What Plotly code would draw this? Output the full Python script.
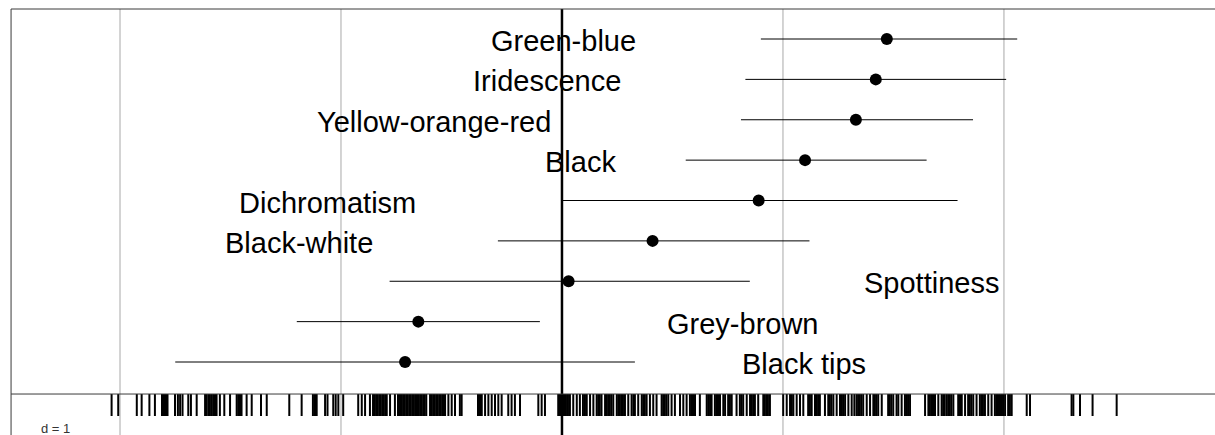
import plotly.graph_objects as go

# ---- data ----
labels = ["Green-blue", "Iridescence", "Yellow-orange-red", "Black", "Dichromatism",
          "Black-white", "Spottiness", "Grey-brown", "Black tips"]
estimate = [1.47, 1.42, 1.33, 1.10, 0.89, 0.41, 0.03, -0.65, -0.71]
lower = [0.90, 0.83, 0.81, 0.56, 0.00, -0.29, -0.78, -1.20, -1.75]
upper = [2.06, 2.01, 1.86, 1.65, 1.79, 1.12, 0.85, -0.10, 0.33]
label_x = [0.005, -0.066, -0.577, 0.086, -1.059, -1.190, 1.672, 0.819, 1.097]
rows = [9, 8, 7, 6, 5, 4, 3, 2, 1]
grid_x = [-2, -1, 1, 2]
zero_x = 0
grid_label = "d = 1"

rug = [
    -2.038, -2.008, -1.924, -1.902, -1.867, -1.842,
    -1.810, -1.805, -1.800, -1.795, -1.790, -1.785,
    -1.751, -1.738, -1.728, -1.717, -1.691, -1.679, -1.653,
    -1.615, -1.608, -1.600, -1.593, -1.585, -1.578, -1.570, -1.563,
    -1.548, -1.528, -1.502, -1.472, -1.465, -1.457, -1.450, -1.427, -1.404,
    -1.362, -1.336, -1.234, -1.178,
    -1.127, -1.120, -1.113, -1.110, -1.072, -1.061, -1.035, -1.024, -1.012, -0.990,
    -0.922, -0.906, -0.891, -0.869,
    -0.855, -0.848, -0.841, -0.834, -0.827, -0.820, -0.813, -0.806, -0.799, -0.793,
    -0.778, -0.756, -0.742,
    -0.733, -0.726, -0.719, -0.712, -0.705, -0.698, -0.691, -0.684, -0.677, -0.670,
    -0.663, -0.656, -0.649, -0.642, -0.635, -0.628, -0.621, -0.614,
    -0.597, -0.590, -0.583, -0.576, -0.569, -0.562, -0.555, -0.548, -0.541, -0.534, -0.529,
    -0.514, -0.499, -0.484, -0.462, -0.454,
    -0.380, -0.371, -0.363, -0.348, -0.333, -0.318, -0.303, -0.288, -0.273,
    -0.243, -0.228, -0.213, -0.190, -0.107, -0.092, -0.077,
    -0.017, -0.009, 0.005, 0.012, 0.018, 0.025, 0.032, 0.036,
    0.051, 0.067, 0.081, 0.095, 0.104, 0.112, 0.127, 0.142,
    0.157, 0.164, 0.171, 0.179, 0.195, 0.202, 0.209, 0.216, 0.223, 0.232,
    0.248, 0.255, 0.262, 0.269, 0.276, 0.285, 0.300, 0.315, 0.323, 0.330, 0.345,
    0.361, 0.368, 0.375, 0.383, 0.398, 0.413, 0.428,
    0.451, 0.458, 0.465, 0.472, 0.481, 0.496, 0.511, 0.534, 0.549, 0.564,
    0.579, 0.586, 0.593, 0.602, 0.624,
    0.655, 0.662, 0.670, 0.677, 0.692, 0.699, 0.706, 0.715, 0.730, 0.738,
    0.752, 0.760, 0.768, 0.790, 0.805, 0.812, 0.820, 0.836,
    0.851, 0.858, 0.865, 0.873, 0.888, 0.911, 0.918, 0.925, 0.932, 0.941,
    1.001, 1.017, 1.032, 1.040, 1.047, 1.062, 1.077, 1.092,
    1.114, 1.122, 1.130, 1.145, 1.152, 1.159, 1.167, 1.190,
    1.205, 1.212, 1.219, 1.228, 1.243, 1.258, 1.265, 1.272, 1.281, 1.296, 1.311, 1.323,
    1.333, 1.340, 1.347, 1.354, 1.363, 1.379, 1.394, 1.409, 1.416, 1.423, 1.431, 1.447,
    1.476, 1.483, 1.490, 1.499, 1.514, 1.522, 1.537, 1.552, 1.559, 1.566, 1.575,
    1.643, 1.658, 1.665, 1.672, 1.679, 1.688, 1.703, 1.718, 1.725, 1.732, 1.741,
    1.748, 1.755, 1.762, 1.771, 1.793, 1.801, 1.809, 1.824,
    1.838, 1.845, 1.852, 1.861, 1.876, 1.891, 1.898, 1.905, 1.914, 1.929, 1.944,
    1.959, 1.966, 1.973, 1.982, 1.991, 1.997, 2.005, 2.019, 2.027, 2.035,
    2.103, 2.118, 2.306, 2.314, 2.344, 2.401, 2.510,
]

# ---- layout constants (axis coordinates) ----
X_MIN, X_MAX = -2.543, 2.955
Y_MIN, Y_MAX = -0.808, 9.966
FRAME_LEFT = -2.493
FRAME_TOP = 9.743
RUG_TOP = 0.207
RUG_BOTTOM = -0.338

fig = go.Figure()

# gridlines
shapes = []
for gx in grid_x:
    shapes.append(dict(type="line", x0=gx, x1=gx, y0=Y_MIN, y1=FRAME_TOP,
                       xref="x", yref="y", layer="below",
                       line=dict(color="#a8a8a8", width=1)))
shapes.append(dict(type="line", x0=zero_x, x1=zero_x, y0=Y_MIN, y1=FRAME_TOP,
                   xref="x", yref="y", layer="below",
                   line=dict(color="#000000", width=2.5)))
# frame
shapes.append(dict(type="line", x0=FRAME_LEFT, x1=FRAME_LEFT, y0=Y_MIN, y1=FRAME_TOP,
                   xref="x", yref="y", line=dict(color="#3a3a3a", width=1)))
shapes.append(dict(type="line", x0=FRAME_LEFT, x1=X_MAX, y0=FRAME_TOP, y1=FRAME_TOP,
                   xref="x", yref="y", line=dict(color="#3a3a3a", width=1)))
shapes.append(dict(type="line", x0=FRAME_LEFT, x1=X_MAX, y0=RUG_TOP, y1=RUG_TOP,
                   xref="x", yref="y", line=dict(color="#3a3a3a", width=1)))

# confidence intervals
ci_x, ci_y = [], []
for lo, hi, r in zip(lower, upper, rows):
    ci_x += [lo, hi, None]
    ci_y += [r, r, None]
fig.add_trace(go.Scatter(x=ci_x, y=ci_y, mode="lines",
                         line=dict(color="black", width=1), hoverinfo="skip",
                         showlegend=False))

# point estimates
fig.add_trace(go.Scatter(x=estimate, y=rows, mode="markers",
                         marker=dict(color="black", size=12), showlegend=False))

# rug
rug_x, rug_y = [], []
for v in rug:
    rug_x += [v, v, None]
    rug_y += [RUG_TOP, RUG_BOTTOM, None]
fig.add_trace(go.Scatter(x=rug_x, y=rug_y, mode="lines",
                         line=dict(color="black", width=2), hoverinfo="skip",
                         showlegend=False))

annotations = []
for lab, lx, r in zip(labels, label_x, rows):
    annotations.append(dict(x=lx, y=r, xref="x", yref="y", text=lab,
                            showarrow=False, xanchor="center", yanchor="middle",
                            yshift=-2,
                            font=dict(family="Liberation Sans, Arial", size=29,
                                      color="black")))
annotations.append(dict(x=55 / 1215, y=(435 - 428) / 435, xref="paper", yref="paper",
                        text=grid_label, showarrow=False, xanchor="center",
                        yanchor="middle",
                        font=dict(family="Liberation Sans, Arial", size=13,
                                  color="#333333")))

fig.update_layout(
    width=1215, height=435,
    margin=dict(l=0, r=0, t=0, b=0),
    paper_bgcolor="white", plot_bgcolor="white",
    shapes=shapes, annotations=annotations,
    xaxis=dict(range=[X_MIN, X_MAX], visible=False, showgrid=False, zeroline=False),
    yaxis=dict(range=[Y_MIN, Y_MAX], visible=False, showgrid=False, zeroline=False),
)

fig.write_html("out.html")
